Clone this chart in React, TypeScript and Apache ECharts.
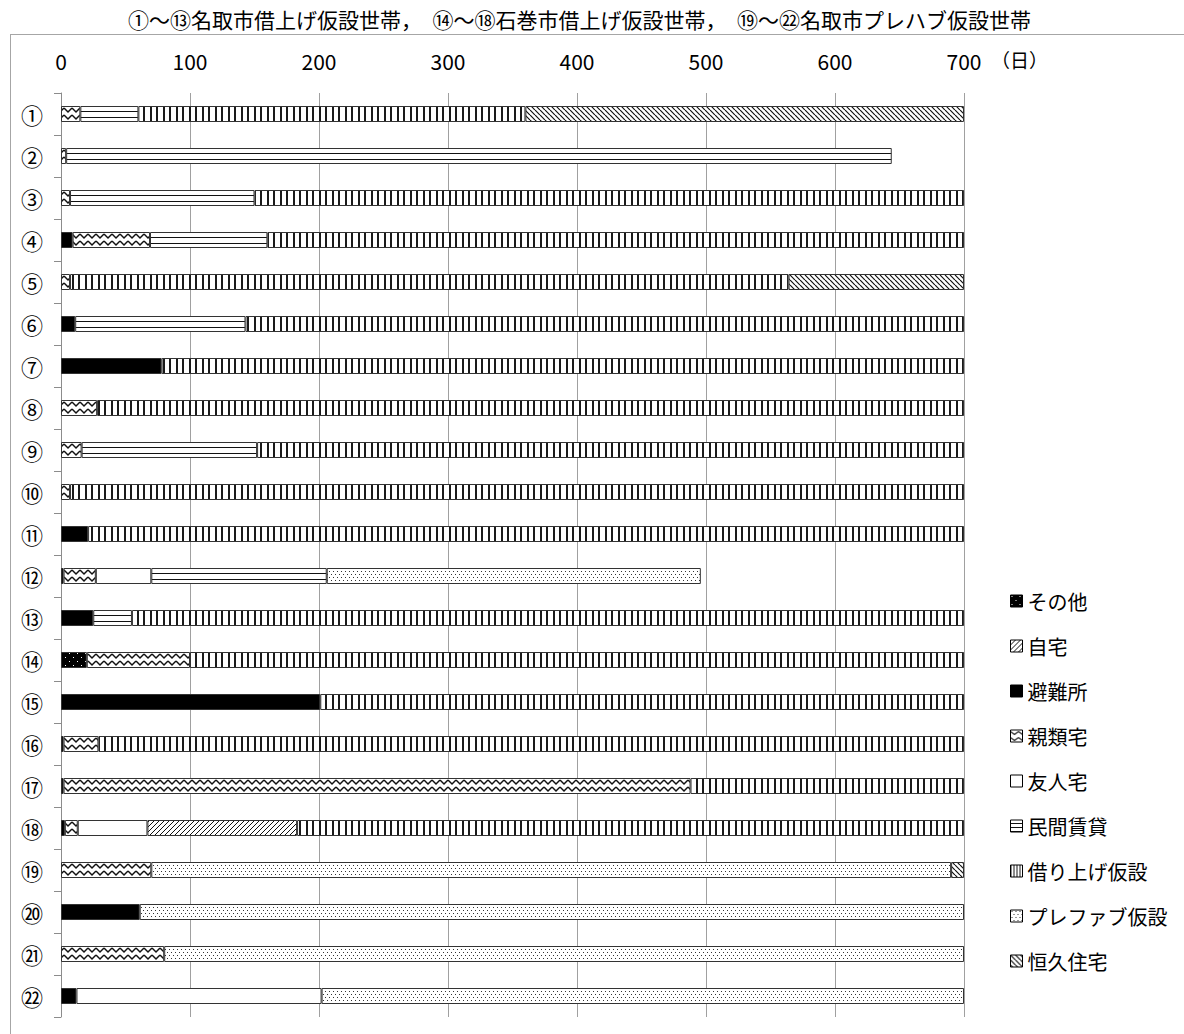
import React, { useEffect, useRef } from 'react';
import * as echarts from 'echarts';

const categories = ['①','②','③','④','⑤','⑥','⑦','⑧','⑨','⑩','⑪','⑫','⑬','⑭','⑮','⑯','⑰','⑱','⑲','⑳','㉑','㉒'];
const xMin = 0;
const xMax = 700;
const xInterval = 100;
const unitLabel = '（日）';
const titleText = '①～⑬名取市借上げ仮設世帯，　⑭～⑱石巻市借上げ仮設世帯，　⑲～㉒名取市プレハブ仮設世帯';

// stacking order (left to right)
const seriesNames = ['その他','避難所','親類宅','友人宅','自宅','民間賃貸','借り上げ仮設','プレファブ仮設','恒久住宅'];
const legendOrder = ['その他','自宅','避難所','親類宅','友人宅','民間賃貸','借り上げ仮設','プレファブ仮設','恒久住宅'];

const _ = null;
//                ①   ②   ③   ④   ⑤   ⑥   ⑦   ⑧   ⑨   ⑩   ⑪   ⑫   ⑬   ⑭   ⑮   ⑯   ⑰   ⑱   ⑲   ⑳   ㉑   ㉒
const sonota   = [_,  _,  _,  _,  _,  _,  _,  _,  _,  _,  _,  _,  _,  20, _,  _,  _,  _,  _,  _,  _,  _];
const hinanjo  = [_,  _,  _,  9,  _,  11, 78, _,  _,  _,  21, 2,  25, _,  201,2,  2,  3,  _,  61, _,  12];
const shinrui  = [15, 4,  7,  60, 7,  _,  _,  28, 16, 7,  _,  25, _,  80, _,  27, 486,10, 70, _,  80, _];
const yujin    = [_,  _,  _,  _,  _,  _,  _,  _,  _,  _,  _,  43, _,  _,  _,  _,  _,  54, _,  _,  _,  190];
const jitaku   = [_,  _,  _,  _,  _,  _,  _,  _,  _,  _,  _,  _,  _,  _,  _,  _,  _,  116,_,  _,  _,  _];
const minkan   = [45, 640,143,91, _,  132,_,  _,  136,_,  _,  136,30, _,  _,  _,  _,  _,  _,  _,  _,  _];
const kariage  = [300,_,  550,540,557,557,622,672,548,693,679,_,  645,600,499,671,212,517,_,  _,  _,  _];
const prefab   = [_,  _,  _,  _,  _,  _,  _,  _,  _,  _,  _,  290,_,  _,  _,  _,  _,  _,  620,639,620,498];
const kokyu    = [340,_,  _,  _,  136,_,  _,  _,  _,  _,  _,  _,  _,  _,  _,  _,  _,  _,  10, _,  _,  _];

const seriesValues = [sonota, hinanjo, shinrui, yujin, jitaku, minkan, kariage, prefab, kokyu];

const FONT = '"Noto Sans CJK JP", "Noto Sans", sans-serif';

function tile(w: number, h: number, draw: (ctx: CanvasRenderingContext2D) => void, bg = '#fff') {
  const c = document.createElement('canvas');
  c.width = w;
  c.height = h;
  const ctx = c.getContext('2d') as CanvasRenderingContext2D;
  ctx.fillStyle = bg;
  ctx.fillRect(0, 0, w, h);
  draw(ctx);
  return { image: c, repeat: 'repeat', imageWidth: w, imageHeight: h } as any;
}

function diag(s: number, up: boolean, lw: number, color: string) {
  return tile(s, s, (ctx) => {
    ctx.strokeStyle = color;
    ctx.lineWidth = lw;
    ctx.beginPath();
    for (let k = -1; k <= 1; k++) {
      if (up) {
        ctx.moveTo(k * s, s);
        ctx.lineTo(k * s + s, 0);
      } else {
        ctx.moveTo(k * s, 0);
        ctx.lineTo(k * s + s, s);
      }
    }
    ctx.stroke();
  });
}

function buildPatterns() {
  const sonotaP = tile(8, 8, (ctx) => {
    ctx.fillStyle = '#fff';
    ctx.fillRect(1, 1, 1, 1);
    ctx.fillRect(5, 5, 1, 1);
  }, '#000');
  const jitakuP = diag(5, true, 1, '#111');
  const kokyuP = diag(5, false, 1.2, '#111');
  const zig = (ctx: CanvasRenderingContext2D, a: number, b: number) => {
    ctx.moveTo(0, a);
    ctx.lineTo(4, b);
    ctx.lineTo(8, a);
  };
  // bar-aligned patterns (row pitch 42px, bar top at y%42 = 22)
  const shinruiBar = tile(8, 42, (ctx) => {
    ctx.strokeStyle = '#111';
    ctx.lineWidth = 1.5;
    ctx.beginPath();
    zig(ctx, 24, 28);
    zig(ctx, 31, 35);
    ctx.stroke();
  });
  const shinruiLeg = tile(8, 6, (ctx) => {
    ctx.strokeStyle = '#222';
    ctx.lineWidth = 1.1;
    ctx.beginPath();
    zig(ctx, 1.5, 4.5);
    ctx.stroke();
  });
  const minkanBar = tile(4, 42, (ctx) => {
    ctx.fillStyle = '#111';
    ctx.fillRect(0, 27, 4, 1);
    ctx.fillRect(0, 33, 4, 1);
  });
  const minkanLeg = tile(4, 4, (ctx) => {
    ctx.fillStyle = '#111';
    ctx.fillRect(0, 3, 4, 1);
  });
  const kariageP = tile(13, 4, (ctx) => {
    ctx.fillStyle = '#1a1a1a';
    ctx.fillRect(0, 0, 2, 4);
    ctx.fillRect(7, 0, 2, 4);
  });
  const kariageLeg = tile(3, 3, (ctx) => {
    ctx.fillStyle = '#1a1a1a';
    ctx.fillRect(0, 0, 1, 3);
  });
  const prefabP = tile(8, 6, (ctx) => {
    ctx.fillStyle = '#333';
    ctx.fillRect(1, 1, 1, 1);
    ctx.fillRect(5, 1, 1, 1);
    ctx.fillRect(3, 4, 1, 1);
    ctx.fillRect(7, 4, 1, 1);
  });
  const bar: Record<string, any> = {
    'その他': sonotaP,
    '避難所': '#000',
    '親類宅': shinruiBar,
    '友人宅': '#fff',
    '自宅': jitakuP,
    '民間賃貸': minkanBar,
    '借り上げ仮設': kariageP,
    'プレファブ仮設': prefabP,
    '恒久住宅': kokyuP,
  };
  const legend: Record<string, any> = {
    ...bar,
    '親類宅': shinruiLeg,
    '民間賃貸': minkanLeg,
    '借り上げ仮設': kariageLeg,
  };
  return { bar, legend };
}

export default function App() {
  const ref = useRef<HTMLDivElement>(null);
  useEffect(() => {
    document.body.style.margin = '0';
    if (!ref.current) return;
    const chart = echarts.init(ref.current, undefined, { renderer: 'svg' });
    const pats = buildPatterns();
    const frame = '#a6a6a6';
    const option: any = {
      animation: false,
      backgroundColor: '#fff',
      title: {
        text: titleText,
        left: 90,
        top: 8,
        padding: [0, 108, 0, 38],
        backgroundColor: '#fff',
        textStyle: { fontFamily: FONT, fontSize: 21, fontWeight: 'normal', color: '#000' },
      },
      graphic: [
        { type: 'line', z: -1, shape: { x1: 10, y1: 34.5, x2: 1184, y2: 34.5 }, style: { stroke: frame, lineWidth: 1 } },
        { type: 'line', z: -1, shape: { x1: 10.5, y1: 34, x2: 10.5, y2: 1034 }, style: { stroke: frame, lineWidth: 1 } },
        {
          type: 'text',
          x: 991,
          y: 59,
          style: { text: unitLabel, fontFamily: FONT, fontSize: 19, fill: '#000', verticalAlign: 'middle' },
        },
      ],
      legend: {
        orient: 'vertical',
        left: 1010,
        top: 591,
        padding: 0,
        icon: 'rect',
        itemWidth: 12,
        itemHeight: 12,
        itemGap: 25,
        itemTextGap: 8,
        selectedMode: false,
        textStyle: { fontFamily: FONT, fontSize: 20, color: '#000', lineHeight: 20 },
        data: legendOrder.map((n) => ({
          name: n,
          itemStyle: { color: pats.legend[n], borderColor: '#000', borderWidth: 1 },
        })),
      },
      grid: { left: 61, top: 93, width: 903, height: 924, containLabel: false },
      xAxis: {
        type: 'value',
        position: 'top',
        min: xMin,
        max: xMax,
        interval: xInterval,
        axisLine: { show: false },
        axisTick: { show: false },
        axisLabel: { fontFamily: FONT, fontSize: 21, color: '#000', margin: 22 },
        splitLine: { show: true, lineStyle: { color: '#a0a0a0', width: 1 } },
      },
      yAxis: {
        type: 'category',
        inverse: true,
        data: categories,
        axisLine: { show: true, lineStyle: { color: '#8c8c8c', width: 1 } },
        axisTick: { show: true, length: 7, lineStyle: { color: '#8c8c8c' } },
        axisLabel: { fontFamily: FONT, fontSize: 22, color: '#000', margin: 18 },
        splitLine: { show: false },
      },
      series: seriesNames.map((name, i) => ({
        name,
        type: 'bar',
        stack: 'total',
        barWidth: 16,
        data: seriesValues[i],
        itemStyle: { color: pats.bar[name], borderColor: '#333', borderWidth: 1 },
        emphasis: { disabled: true },
      })),
    };
    chart.setOption(option);
    return () => chart.dispose();
  }, []);
  return <div ref={ref} style={{ width: 1184, height: 1034 }} />;
}
